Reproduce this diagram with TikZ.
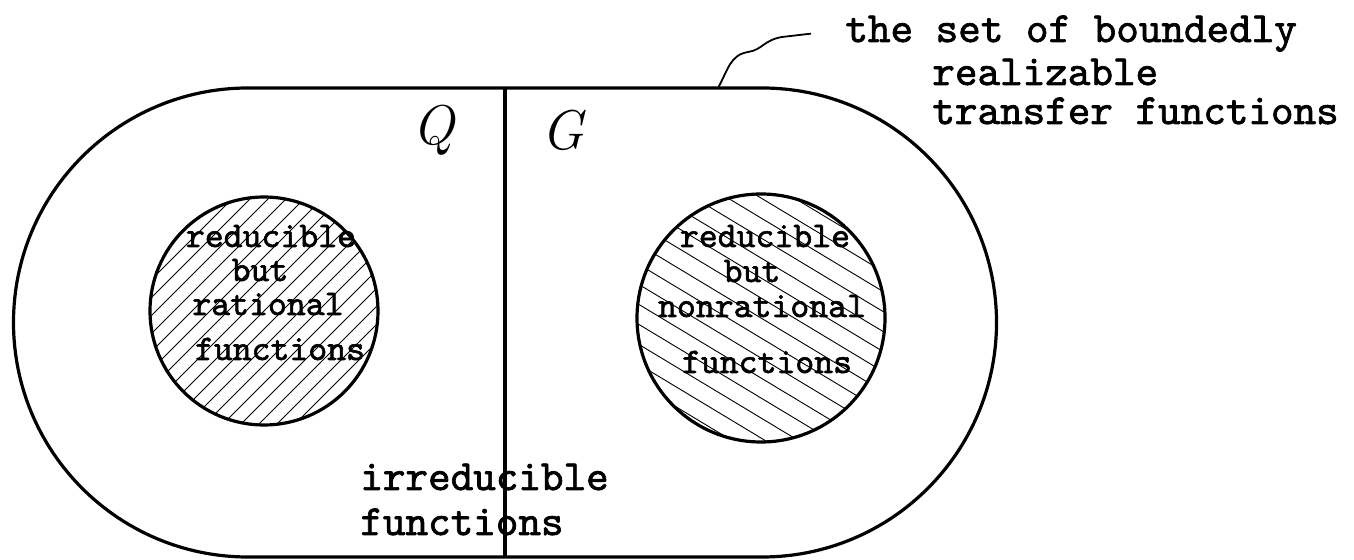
\documentclass[tikz,border=0pt]{standalone}
\usepackage{fontspec}
\newfontfamily\handtype{lmmono10-regular.otf}[FakeBold=1.6]

\begin{document}
\begin{tikzpicture}[x=0.5pt, y=-0.5pt,
    outline/.style={line width=1.6pt, line join=round},
    hatch/.style={line width=0.45pt},
    word/.style={inner sep=0pt, anchor=base, font=\handtype\fontsize{18}{18}\selectfont},
    bigword/.style={inner sep=0pt, anchor=base west, font=\handtype\fontsize{21.5}{21.5}\selectfont},
    letter/.style={inner sep=0pt, font=\itshape\fontsize{28}{28}\selectfont}]
  \useasboundingbox (0,0) rectangle (1354,560);
  \coordinate (lc) at (264,311);
  \coordinate (rc) at (761,318);
  \coordinate (cuttop) at (505,88);
  \coordinate (cutbot) at (505,557);
  \coordinate (touch) at (718,88);
  % hatching
  \begin{scope}
    \clip (lc) circle[radius=57pt];
    \foreach \k in {-9,...,9}
      \draw[hatch] (264+\k*18,311) ++(-150,150) -- ++(300,-300);
  \end{scope}
  \begin{scope}
    \clip (rc) circle[radius=62pt];
    \foreach \k in {-8,...,8}
      \draw[hatch] (761,318+\k*20) ++(-171,-103) -- ++(342,206);
  \end{scope}
  \draw[outline] (lc) circle[radius=57pt];
  \draw[outline] (rc) circle[radius=62pt];
  % the whole set
  \draw[outline] (248,88) -- (762,88) arc (90:-90:117.25pt) -- (248,557) arc (270:90:117.25pt) -- cycle;
  \draw[outline] (cuttop) -- (cutbot);
  \node[letter] (q) at (433,130) {Q};
  \node[letter] (g) at (563,130) {G};
  \node[word] (lred) at (271,247) {reducible};
  \node[word] (lbut) at (260,281) {but};
  \node[word] (lrat) at (268,315) {rational};
  \node[word] (lfun) at (280,360) {functions};
  \node[word] (rred) at (765,247) {reducible};
  \node[word] (rbut) at (752,282) {but};
  \node[word] (rrat) at (762,317) {nonrational};
  \node[word] (rfun) at (767,373) {functions};
  \node[bigword] (irr) at (360,490) {irreducible};
  \node[bigword] (irrfun) at (360,535) {functions};
  \node[bigword] (set1) at (845,42) {the set of boundedly};
  \node[bigword] (set2) at (932,85) {realizable};
  \node[bigword] (set3) at (932,124) {transfer functions};
  \draw[line width=0.9pt] (touch) .. controls (728,70) and (730,55) .. (748,52)
    .. controls (762,50) and (764,40) .. (782,37) -- ([xshift=-17pt]set1.west);
\end{tikzpicture}
\end{document}
